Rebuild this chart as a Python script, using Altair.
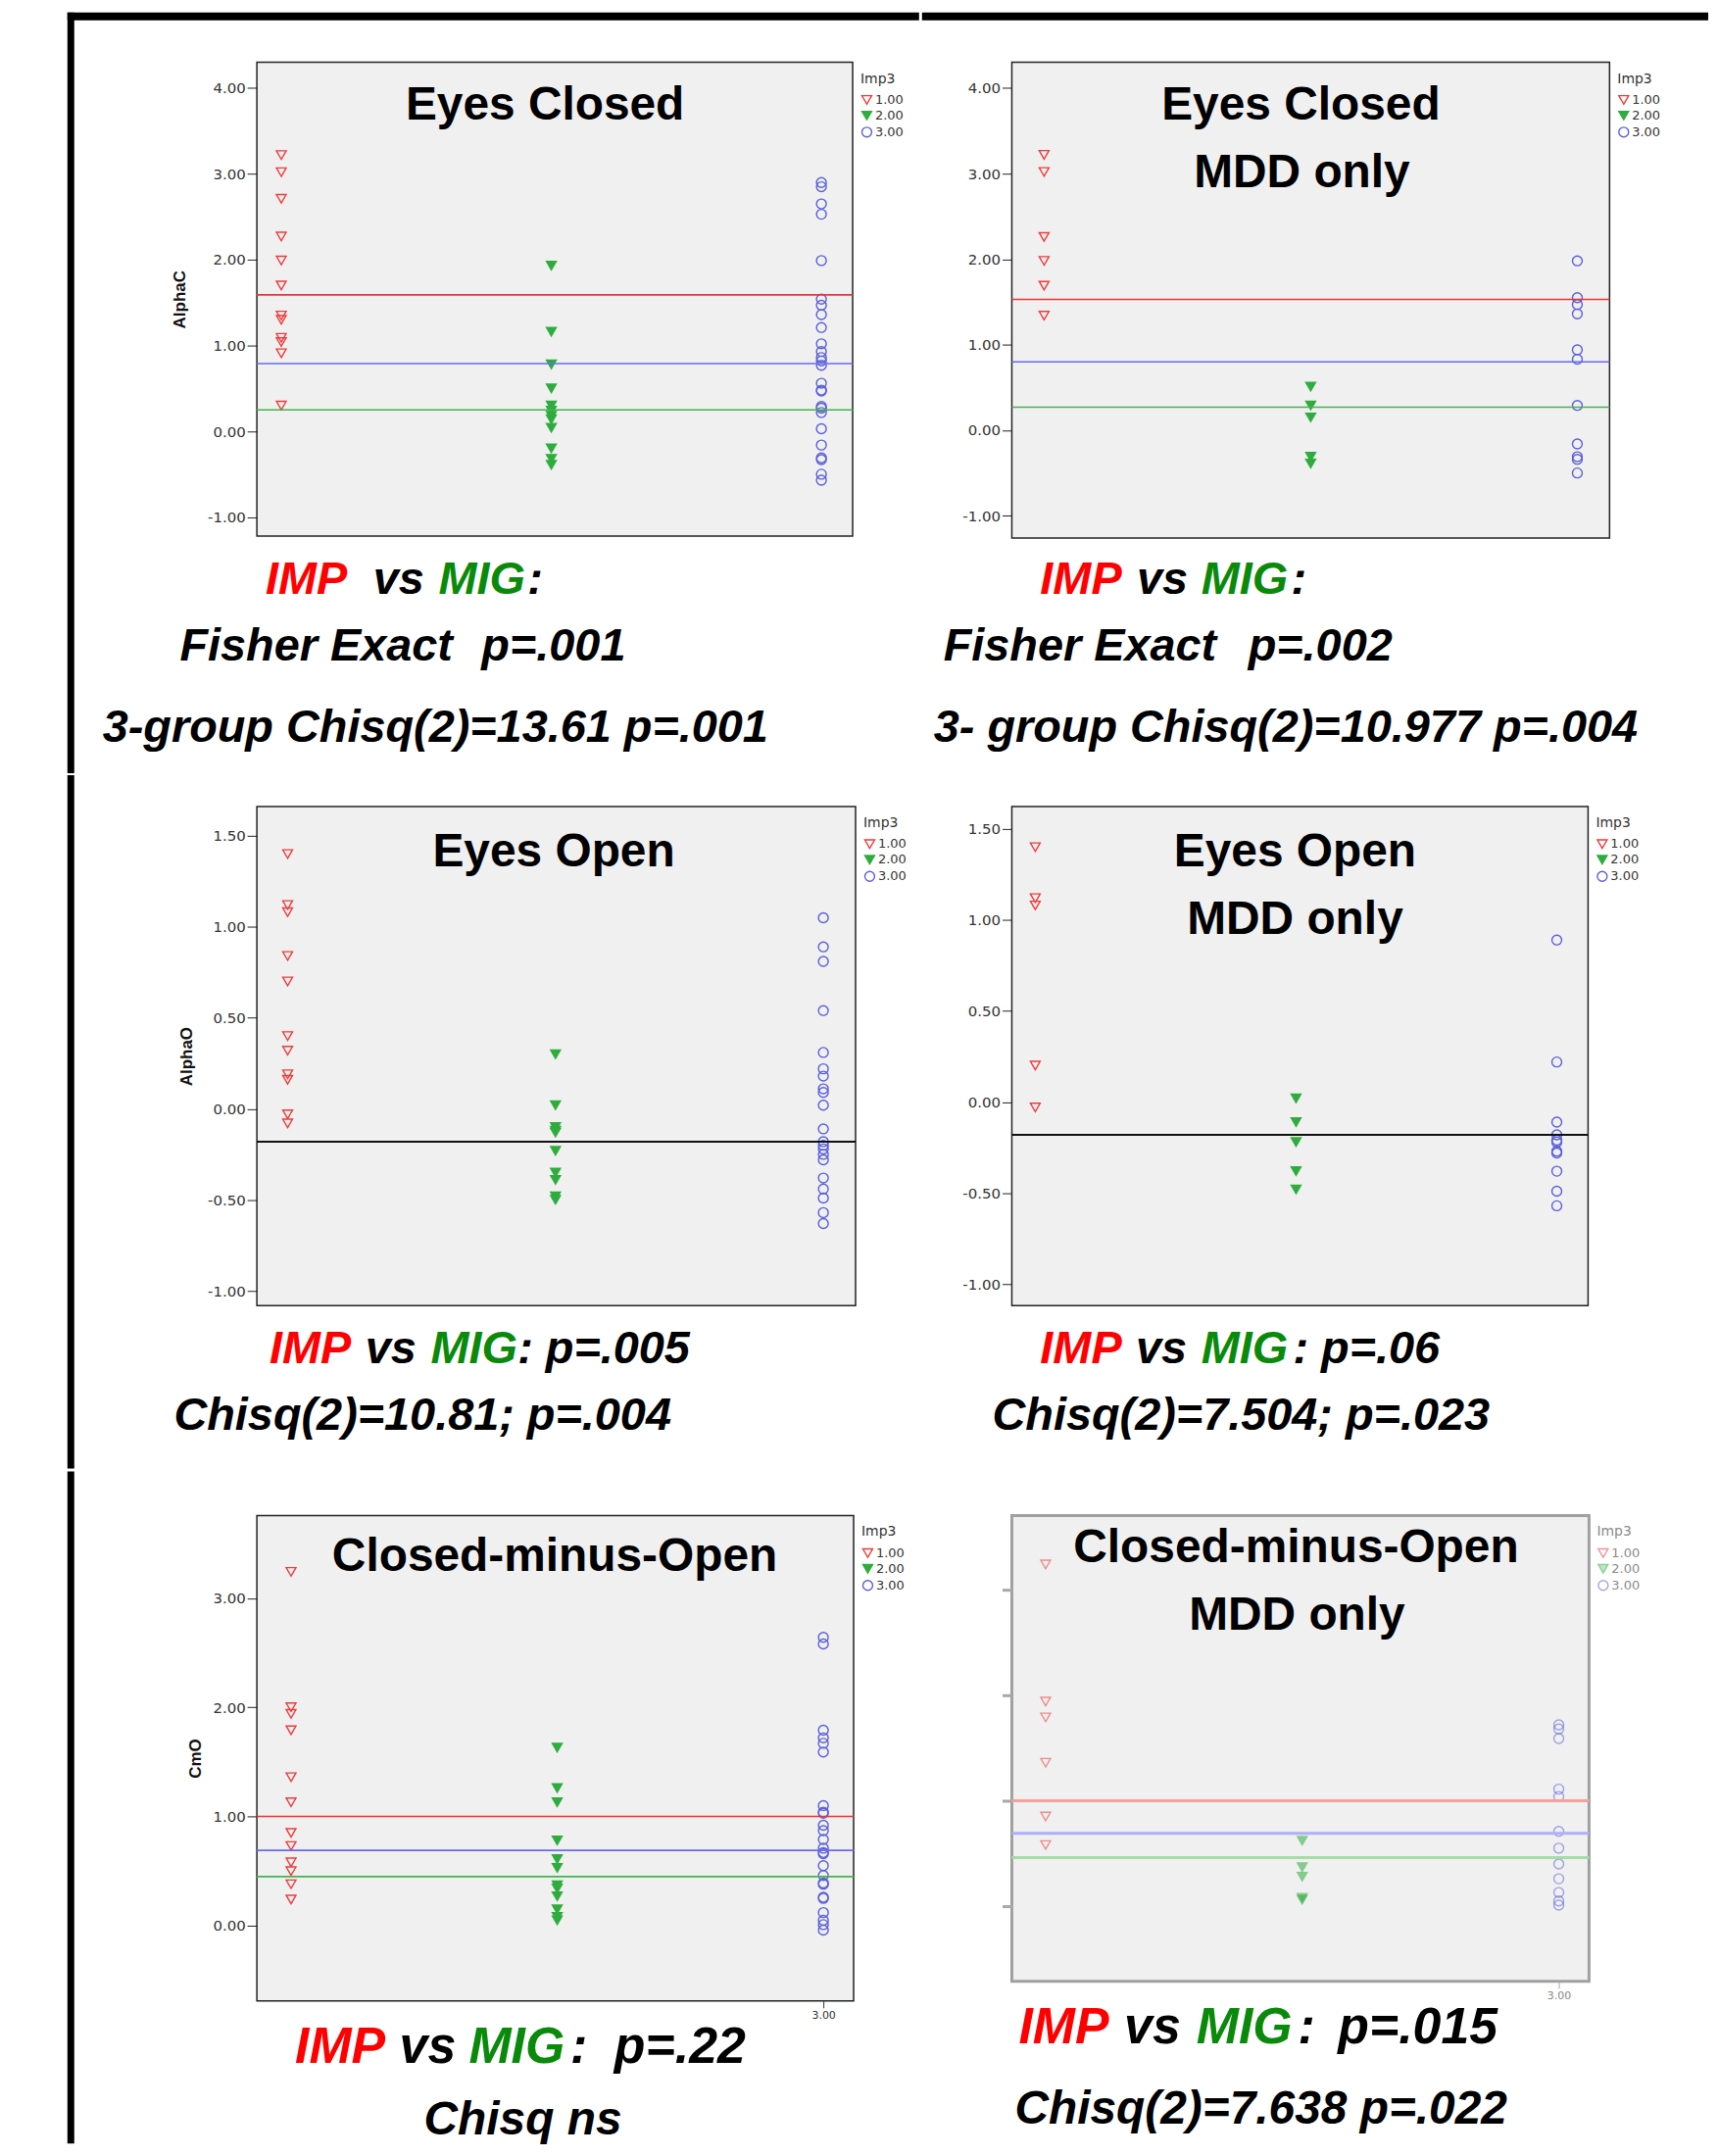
import altair as alt
import pandas as pd

FONT = "Liberation Sans"
SMALL_FONT = "DejaVu Sans"
LEVELS = ["1.00", "2.00", "3.00"]
SHAPES = ["triangle-down", "triangle-down", "circle"]

PT_RED, PT_GREEN, PT_BLUE = "#EE3B3B", "#2EAD3E", "#5A5FD8"
LN_RED, LN_BLUE, LN_GREEN, LN_BLACK = "#EE3333", "#6B6BF0", "#44B34F", "#111111"
TX_RED, TX_GREEN, TX_BLACK = "#FF0000", "#0A8A0A", "#000000"

# ---------------- data ----------------
p1_imp = [3.22, 3.02, 2.71, 2.27, 1.99, 1.70, 1.35, 1.30, 1.09, 1.04, 0.91, 0.30]
p1_mig = [1.93, 1.16, 0.78, 0.50, 0.30, 0.24, 0.18, 0.14, 0.04, -0.20, -0.32, -0.39]
p1_oth = [2.90, 2.85, 2.65, 2.53, 1.99, 1.54, 1.47, 1.36, 1.21, 1.02, 0.93, 0.86, 0.82,
          0.77, 0.56, 0.48, 0.47, 0.29, 0.27, 0.22, 0.03, -0.16, -0.31, -0.33, -0.50, -0.57]
p1_means = [1.59, 0.79, 0.25]          # red, blue, green reference lines

p2_imp = [3.22, 3.02, 2.26, 1.98, 1.69, 1.34]
p2_mig = [0.51, 0.29, 0.15, -0.31, -0.39]
p2_oth = [1.98, 1.55, 1.47, 1.36, 0.94, 0.83, 0.29, -0.16, -0.31, -0.34, -0.50]
p2_means = [1.53, 0.80, 0.27]

p3_imp = [1.40, 1.12, 1.08, 0.84, 0.70, 0.40, 0.32, 0.19, 0.16, -0.03, -0.08]
p3_mig = [0.30, 0.02, -0.10, -0.12, -0.13, -0.23, -0.35, -0.39, -0.48, -0.50]
p3_oth = [1.05, 0.89, 0.81, 0.54, 0.31, 0.22, 0.18, 0.11, 0.09, 0.02, -0.11, -0.18, -0.20,
          -0.22, -0.25, -0.28, -0.38, -0.44, -0.49, -0.57, -0.63]
p3_cut = [-0.18]

p4_imp = [1.40, 1.12, 1.08, 0.20, -0.03]
p4_mig = [0.02, -0.11, -0.22, -0.38, -0.48]
p4_oth = [0.89, 0.22, -0.11, -0.18, -0.21, -0.22, -0.27, -0.28, -0.38, -0.49, -0.57]
p4_cut = [-0.18]

p5_imp = [3.24, 2.00, 1.94, 1.79, 1.36, 1.13, 0.85, 0.73, 0.58, 0.50, 0.38, 0.24]
p5_mig = [1.63, 1.26, 1.13, 0.78, 0.61, 0.53, 0.37, 0.34, 0.27, 0.15, 0.08, 0.05]
p5_oth = [2.64, 2.58, 1.79, 1.72, 1.67, 1.59, 1.10, 1.04, 1.03, 0.92, 0.87, 0.79, 0.71,
          0.67, 0.66, 0.55, 0.46, 0.39, 0.38, 0.26, 0.25, 0.12, 0.05, 0.01, -0.04]
p5_means = [1.00, 0.69, 0.45]

p6_imp = [3.24, 1.94, 1.79, 1.36, 0.85, 0.58]
p6_mig = [0.62, 0.37, 0.28, 0.08, 0.06]
p6_oth = [1.72, 1.68, 1.59, 1.11, 1.04, 0.71, 0.55, 0.40, 0.26, 0.13, 0.05, 0.01]
p6_means = [1.00, 0.69, 0.46]

# ---------------- text ----------------
titles = {
    1: ["Eyes Closed"], 2: ["Eyes Closed", "MDD only"],
    3: ["Eyes Open"], 4: ["Eyes Open", "MDD only"],
    5: ["Closed-minus-Open"], 6: ["Closed-minus-Open", "MDD only"],
}
y_titles = {1: "AlphaC", 3: "AlphaO", 5: "CmO"}
stat_lines = {
    1: ["Fisher Exact", "p=.001", "3-group Chisq(2)=13.61 p=.001"],
    2: ["Fisher Exact", "p=.002", "3- group Chisq(2)=10.977 p=.004"],
    3: [": p=.005", "Chisq(2)=10.81; p=.004"],
    4: [": p=.06", "Chisq(2)=7.504; p=.023"],
    5: [":", "p=.22", "Chisq ns"],
    6: [":", "p=.015", "Chisq(2)=7.638 p=.022"],
}

# ---------------- layout (page pixels) ----------------
COLS = [(8, 940), (940, 1745)]          # cell boxes
ROWS = [(11, 790), (790, 1500), (1500, 2188)]
COL_LEFT = [262, 1032]                  # plot-area left edge per column
ROW_TOP = [62, 822, 1545]               # plot-area top edge per row
FRAME_TOP = (11, 19)

PANELS = [
    dict(n=1, imp=p1_imp, mig=p1_mig, oth=p1_oth,
         lines=[(p1_means[0], LN_RED), (p1_means[1], LN_BLUE), (p1_means[2], LN_GREEN)],
         right=872, bottom=547, cats=(287, 840), ticks=((4, 88.4), (-1, 527.7)),
         yticks=[-1, 0, 1, 2, 3, 4], tpos=[(557, 121)], title_x=183),
    dict(n=2, imp=p2_imp, mig=p2_mig, oth=p2_oth,
         lines=[(p2_means[0], LN_RED), (p2_means[1], LN_BLUE), (p2_means[2], LN_GREEN)],
         right=1644, bottom=549, cats=(1065, 1611), ticks=((4, 88.4), (-1, 526.3)),
         yticks=[-1, 0, 1, 2, 3, 4], tpos=[(1328, 121), (1329, 190)]),
    dict(n=3, imp=p3_imp, mig=p3_mig, oth=p3_oth, lines=[(p3_cut[0], LN_BLACK)],
         right=875, bottom=1333, cats=(293.5, 842), ticks=((1.5, 852.0), (-1, 1318.0)),
         yticks=[-1, -0.5, 0, 0.5, 1, 1.5], tpos=[(566, 883)], title_x=190),
    dict(n=4, imp=p4_imp, mig=p4_mig, oth=p4_oth, lines=[(p4_cut[0], LN_BLACK)],
         right=1622, bottom=1333, cats=(1056, 1590), ticks=((1.5, 845.0), (-1, 1311.0)),
         yticks=[-1, -0.5, 0, 0.5, 1, 1.5], tpos=[(1322, 883), (1322, 952)]),
    dict(n=5, imp=p5_imp, mig=p5_mig, oth=p5_oth,
         lines=[(p5_means[0], LN_RED), (p5_means[1], LN_BLUE), (p5_means[2], LN_GREEN)],
         right=873, bottom=2042, cats=(297, 842), ticks=((3, 1629.5), (0, 1965.0)),
         yticks=[0, 1, 2, 3], tpos=[(567, 1602)], xaxis=True, title_x=199),
    dict(n=6, imp=p6_imp, mig=p6_mig, oth=p6_oth,
         lines=[(p6_means[0], "#F2A0A0"), (p6_means[1], "#AEB0F6"), (p6_means[2], "#A6DCA8")],
         right=1623, bottom=2022, cats=(1066.6, 1592), ticks=((3, 1621.0), (0, 1945.0)),
         yticks=[0, 1, 2, 3], tpos=[(1323, 1593), (1324, 1662)], xaxis=True, faded=True),
]

SEGMENTS = {
    1: [("IMP", 271, 606, 47, TX_RED), ("vs", 381, 606, 47, TX_BLACK), ("MIG", 448, 606, 47, TX_GREEN),
        (":", 539, 606, 47, TX_BLACK), (0, 183, 675, 47, TX_BLACK), (1, 492, 675, 47, TX_BLACK),
        (2, 104, 758, 47, TX_BLACK)],
    2: [("IMP", 1061, 606, 47, TX_RED), ("vs", 1160, 606, 47, TX_BLACK), ("MIG", 1226, 606, 47, TX_GREEN),
        (":", 1318, 606, 47, TX_BLACK), (0, 962, 675, 47, TX_BLACK), (1, 1274, 675, 47, TX_BLACK),
        (2, 952, 758, 47, TX_BLACK)],
    3: [("IMP", 275, 1392, 47, TX_RED), ("vs", 373, 1392, 47, TX_BLACK), ("MIG", 440, 1392, 47, TX_GREEN),
        (0, 529, 1392, 47, TX_BLACK), (1, 177, 1460, 47, TX_BLACK)],
    4: [("IMP", 1061, 1392, 47, TX_RED), ("vs", 1159, 1392, 47, TX_BLACK), ("MIG", 1226, 1392, 47, TX_GREEN),
        (0, 1320, 1392, 47, TX_BLACK), (1, 1012, 1460, 47, TX_BLACK)],
    5: [("IMP", 301, 2105, 52, TX_RED), ("vs", 408, 2105, 52, TX_BLACK), ("MIG", 479, 2105, 52, TX_GREEN),
        (0, 583, 2105, 52, TX_BLACK), (1, 628, 2105, 52, TX_BLACK), (2, 433, 2179, 48, TX_BLACK)],
    6: [("IMP", 1039, 2085, 52, TX_RED), ("vs", 1147, 2085, 52, TX_BLACK), ("MIG", 1221, 2085, 52, TX_GREEN),
        (0, 1325, 2085, 52, TX_BLACK), (1, 1366, 2085, 52, TX_BLACK), (2, 1035, 2168, 48, TX_BLACK)],
}

ONE = pd.DataFrame({"a": [0]})
LABEL_EXPR = "replace(format(datum.value, '.2f'), '\u2212', '-')"


def rect(g, x0, y0, x1, y1, color="black", opacity=1.0):
    return alt.Chart(ONE).mark_rect(color=color, opacity=opacity).encode(
        x=alt.value(x0 - g["PL"]), x2=alt.value(x1 - g["PL"]),
        y=alt.value(y0 - g["PT"]), y2=alt.value(y1 - g["PT"]))


def text(g, s, x, y, size, color, italic=True, align="left"):
    return alt.Chart(pd.DataFrame({"t": [s]})).mark_text(
        font=FONT, fontSize=size, fontWeight="bold", fontStyle="italic" if italic else "normal",
        color=color, align=align, baseline="alphabetic").encode(
        x=alt.value(x - g["PL"]), y=alt.value(y - g["PT"]), text="t:N")


def build(p, row, col):
    PL, PT = COL_LEFT[col], ROW_TOP[row]
    W, H = p["right"] - PL, p["bottom"] - PT
    g = dict(PL=PL, PT=PT)
    faded = p.get("faded", False)

    # scale domains from the pixel positions of the categories and ticks
    c1, c3 = p["cats"]
    per = (c3 - c1) / 2.0
    xdom = [1 - (c1 - PL) / per, 3 + (p["right"] - c3) / per]
    (va, ya), (vb, yb) = p["ticks"]
    k = (vb - va) / (yb - ya)
    ydom = [va + (p["bottom"] - ya) * k, va + (PT - ya) * k]

    recs = []
    for i, (lvl, vals) in enumerate(zip(LEVELS, [p["imp"], p["mig"], p["oth"]])):
        for v in vals:
            recs.append({"Imp3": lvl, "grp": i + 1, "val": v})
    df = pd.DataFrame(recs)
    xs = alt.Scale(domain=xdom, nice=False, zero=False)
    ys = alt.Scale(domain=ydom, nice=False, zero=False)

    ykw = dict(values=p["yticks"], labelExpr=LABEL_EXPR, grid=False, domain=False, tickSize=10,
               labelFont=SMALL_FONT, labelFontSize=15, labelColor="#333333", labelPadding=2)
    if faded:
        ykw.update(labels=False, tickColor="#A8A8A8", tickWidth=3)
    else:
        ykw.update(tickColor="#222222", tickWidth=1)
    if p["n"] in y_titles:
        ykw.update(title=y_titles[p["n"]], titleFont=FONT, titleFontSize=17, titleFontWeight="bold",
                   titleColor="#111111", titleAngle=270, titleX=p["title_x"] - PL, titleY=H / 2,
                   titleAlign="center", titleBaseline="middle")
    else:
        ykw.update(title=None)
    yaxis = alt.Axis(**ykw)

    if p.get("xaxis"):
        xaxis = alt.Axis(values=[3], format=".2f", grid=False, domain=False, tickSize=7,
                         tickColor="#A8A8A8" if faded else "#333333", title=None,
                         labelFont=SMALL_FONT, labelFontSize=11,
                         labelColor="#888888" if faded else "#333333")
    else:
        xaxis = None

    lcol = "#8A8A8A" if faded else "#333333"
    leg = alt.Legend(title="Imp3", orient="none", legendX=W + 8, legendY=10,
                     titleFont=SMALL_FONT, titleFontSize=14, titleFontWeight="normal", titleColor=lcol,
                     labelFont=SMALL_FONT, labelFontSize=13, labelColor=lcol, symbolSize=100,
                     symbolStrokeWidth=1.4, rowPadding=1, titlePadding=8, labelOffset=2, padding=0)

    pts = alt.Chart(df).mark_point(size=100, strokeWidth=1.4, opacity=0.55 if faded else 1).encode(
        x=alt.X("grp:Q", scale=xs, axis=xaxis),
        y=alt.Y("val:Q", scale=ys, axis=yaxis),
        shape=alt.Shape("Imp3:N", scale=alt.Scale(domain=LEVELS, range=SHAPES), legend=leg),
        stroke=alt.Stroke("Imp3:N", scale=alt.Scale(domain=LEVELS, range=[PT_RED, PT_GREEN, PT_BLUE]),
                          legend=leg),
        fill=alt.Fill("Imp3:N", scale=alt.Scale(domain=LEVELS, range=["transparent", PT_GREEN, "transparent"]),
                      legend=leg),
    )

    layers = []
    (cx0, cx1), (ry0, ry1) = COLS[col], ROWS[row]
    layers.append(rect(g, cx0, ry0, cx1, ry1, opacity=0))      # fixes the cell extent
    if row == 0:
        layers.append(rect(g, 68 if col == 0 else cx0, FRAME_TOP[0], cx1, FRAME_TOP[1]))
    if col == 0:
        layers.append(rect(g, 68, FRAME_TOP[0] if row == 0 else ry0, 75, ry1))

    layers.append(pts)
    lw = 3 if faded else (2 if p["n"] in (3, 4) else 1.6)
    for v, c in p["lines"]:
        layers.append(alt.Chart(pd.DataFrame({"v": [v]})).mark_rule(color=c, strokeWidth=lw).encode(
            y=alt.Y("v:Q", scale=ys, axis=yaxis)))

    for s, (tx, ty) in zip(titles[p["n"]], p["tpos"]):
        layers.append(text(g, s, tx, ty, 48, "#000000", italic=False, align="center"))

    for seg, x, y, size, color in SEGMENTS[p["n"]]:
        s = stat_lines[p["n"]][seg] if isinstance(seg, int) else seg
        layers.append(text(g, s, x, y, size, color))

    view = alt.ViewBackground(fill="#F0F0F0", stroke="#A0A0A0" if faded else "#222222",
                              strokeWidth=3 if faded else 1.5)
    return alt.layer(*layers).properties(width=W, height=H, view=view)


cells = [build(p, i // 2, i % 2) for i, p in enumerate(PANELS)]

chart = alt.concat(*cells, columns=2, spacing=0).properties(
    align="each", bounds="full", padding=0
).resolve_scale(
    x="independent", y="independent", shape="independent", stroke="independent", fill="independent"
).resolve_legend(
    shape="independent", stroke="independent", fill="independent"
).configure(font=FONT)

chart.save("out.html", embed_options={"renderer": "svg", "actions": False})
